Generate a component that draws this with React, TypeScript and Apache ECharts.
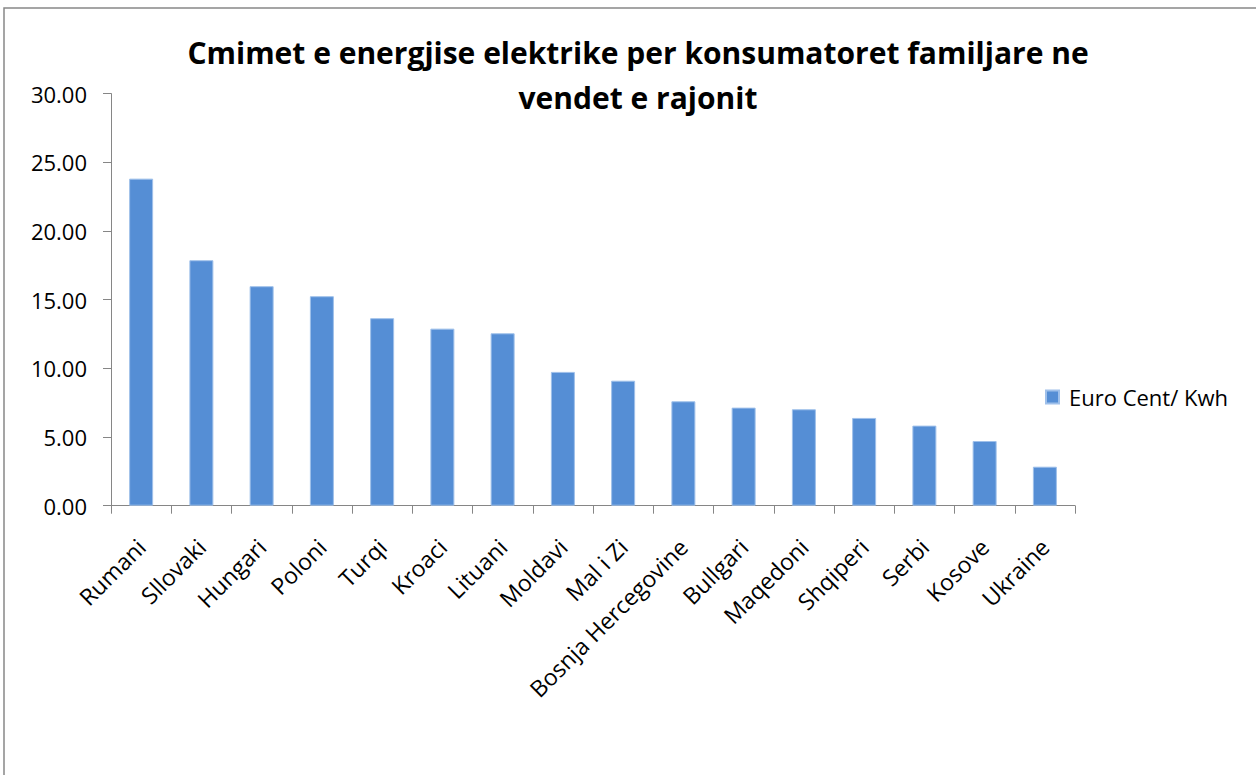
import React, { useEffect, useRef } from "react";
import * as echarts from "echarts";

const TITLE = "Cmimet e energjise elektrike per konsumatoret familjare ne\nvendet e rajonit";
const SERIES_NAME = "Euro Cent/ Kwh";
const categories = [
  "Rumani",
  "Sllovaki",
  "Hungari",
  "Poloni",
  "Turqi",
  "Kroaci",
  "Lituani",
  "Moldavi",
  "Mal i Zi",
  "Bosnja Hercegovine",
  "Bullgari",
  "Maqedoni",
  "Shqiperi",
  "Serbi",
  "Kosove",
  "Ukraine",
];
const values = [23.81, 17.87, 15.98, 15.25, 13.65, 12.89, 12.55, 9.74, 9.1, 7.6, 7.14, 7.02, 6.39, 5.83, 4.71, 2.84];
const Y_MIN = 0;
const Y_MAX = 30;
const Y_STEP = 5;

const FONT = "'Open Sans', 'Noto Sans', sans-serif";

export default function App() {
  const ref = useRef<HTMLDivElement>(null);
  useEffect(() => {
    if (!ref.current) return;
    const chart = echarts.init(ref.current, null, { renderer: "svg" });
    chart.setOption({
      animation: false,
      backgroundColor: "#ffffff",
      textStyle: { fontFamily: FONT },
      graphic: [
        {
          type: "rect",
          shape: { x: 4, y: 8, width: 1400, height: 900 },
          style: { fill: "none", stroke: "#888888", lineWidth: 1.5 },
          silent: true,
          z: -10,
        },
      ],
      title: {
        text: TITLE,
        left: 633,
        top: 25,
        textAlign: "center",
        textStyle: {
          fontFamily: FONT,
          fontWeight: "bold",
          fontSize: 30,
          lineHeight: 45,
          color: "#000000",
        },
      },
      legend: {
        left: 1040,
        top: 381,
        orient: "vertical",
        icon: "rect",
        itemWidth: 13,
        itemHeight: 13,
        textStyle: {
          fontFamily: FONT,
          fontSize: 22,
          color: "#000000",
          padding: [0, 0, 0, 5],
        },
        data: [SERIES_NAME],
      },
      grid: {
        left: 111,
        right: 181,
        top: 93.6,
        bottom: 269.3,
        containLabel: false,
      },
      xAxis: {
        type: "category",
        data: categories,
        boundaryGap: true,
        axisLine: { show: true, lineStyle: { color: "#868686", width: 1 } },
        axisTick: { show: true, alignWithLabel: false, length: 8, lineStyle: { color: "#868686" } },
        axisLabel: {
          interval: 0,
          rotate: 45,
          margin: 37,
          fontFamily: FONT,
          fontSize: 23,
          color: "#000000",
        },
        splitLine: { show: false },
      },
      yAxis: {
        type: "value",
        min: Y_MIN,
        max: Y_MAX,
        interval: Y_STEP,
        axisLine: { show: true, lineStyle: { color: "#868686", width: 1 } },
        axisTick: { show: true, length: 8, lineStyle: { color: "#868686" } },
        axisLabel: {
          margin: 24,
          fontFamily: FONT,
          fontSize: 22,
          color: "#000000",
          formatter: (v: number) => v.toFixed(2),
        },
        splitLine: { show: false },
      },
      series: [
        {
          name: SERIES_NAME,
          type: "bar",
          data: values,
          barWidth: 24,
          itemStyle: { color: "#558ed5", borderColor: "#9fc0ea", borderWidth: 1 },
        },
      ],
    });
    return () => chart.dispose();
  }, []);
  return (
    <div
      ref={ref}
      style={{ position: "fixed", left: 0, top: 0, width: 1256, height: 775, background: "#fff" }}
    />
  );
}
